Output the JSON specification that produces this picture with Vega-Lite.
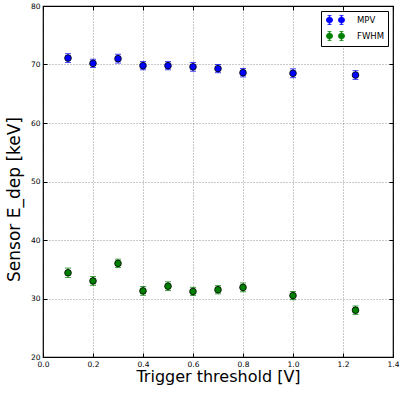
{
  "$schema": "https://vega.github.io/schema/vega-lite/v6.json",
  "width": 350,
  "height": 351,
  "autosize": {"type": "none"},
  "padding": {"left": 43, "top": 6, "right": 6, "bottom": 36},
  "background": "white",
  "config": {
    "font": "DejaVu Sans",
    "view": {"stroke": "black", "strokeWidth": 1.2},
    "axis": {"domain": false, "labelFont": "DejaVu Sans", "titleFont": "DejaVu Sans", "labelColor": "black", "titleColor": "black", "tickColor": "black", "titleFontWeight": "normal"},
    "legend": {"strokeColor": "black", "fillColor": "white", "padding": 3, "labelFontSize": 8.5, "labelColor": "black", "labelFont": "DejaVu Sans", "symbolOpacity": 1, "symbolStrokeColor": "black", "symbolStrokeWidth": 0.8, "rowPadding": 2, "labelOffset": 21, "symbolSize": 121, "offset": 5}
  },
  "data": {
    "values": [
      {"series": "MPV", "x": 0.1, "y": 71.1, "err": 0.75},
      {"series": "MPV", "x": 0.2, "y": 70.2, "err": 0.7},
      {"series": "MPV", "x": 0.3, "y": 71.0, "err": 0.75},
      {"series": "MPV", "x": 0.4, "y": 69.8, "err": 0.7},
      {"series": "MPV", "x": 0.5, "y": 69.8, "err": 0.7},
      {"series": "MPV", "x": 0.6, "y": 69.6, "err": 0.75},
      {"series": "MPV", "x": 0.7, "y": 69.3, "err": 0.7},
      {"series": "MPV", "x": 0.8, "y": 68.6, "err": 0.72},
      {"series": "MPV", "x": 1.0, "y": 68.5, "err": 0.75},
      {"series": "MPV", "x": 1.25, "y": 68.2, "err": 0.75},
      {"series": "FWHM", "x": 0.1, "y": 34.4, "err": 0.8},
      {"series": "FWHM", "x": 0.2, "y": 33.0, "err": 0.75},
      {"series": "FWHM", "x": 0.3, "y": 36.0, "err": 0.72},
      {"series": "FWHM", "x": 0.4, "y": 31.3, "err": 0.75},
      {"series": "FWHM", "x": 0.5, "y": 32.1, "err": 0.75},
      {"series": "FWHM", "x": 0.6, "y": 31.2, "err": 0.7},
      {"series": "FWHM", "x": 0.7, "y": 31.5, "err": 0.7},
      {"series": "FWHM", "x": 0.8, "y": 31.9, "err": 0.75},
      {"series": "FWHM", "x": 1.0, "y": 30.5, "err": 0.7},
      {"series": "FWHM", "x": 1.25, "y": 28.0, "err": 0.72}
    ]
  },
  "resolve": {"axis": {"x": "independent", "y": "independent"}},
  "layer": [
    {
      "mark": {"type": "errorbar", "ticks": {"size": 6}, "opacity": 0.75, "thickness": 1},
      "encoding": {
        "x": {"field": "x", "type": "quantitative", "scale": {"domain": [0, 1.4], "nice": false},
          "axis": {"orient": "top", "labels": false, "title": null, "grid": false, "values": [0,0.2,0.4,0.6,0.8,1.0,1.2,1.4], "tickSize": -4}},
        "y": {"field": "y", "type": "quantitative", "scale": {"domain": [20, 80], "nice": false, "zero": false},
          "axis": {"orient": "right", "labels": false, "title": null, "grid": false, "values": [20,30,40,50,60,70,80], "tickSize": -4}},
        "yError": {"field": "err"},
        "color": {"field": "series", "type": "nominal", "scale": {"domain": ["MPV", "FWHM"], "range": ["#0000ff", "#008000"]},
          "legend": {"title": null, "orient": "top-right", "strokeColor": "black", "fillColor": "white", "symbolOpacity": 1,
            "encode": {"legend": {"update": {"stroke": {"value": "black"}, "strokeWidth": {"value": 1}, "fill": {"value": "white"}}}},
            "symbolType": "M -0.09 -0.82 L -0.09 0.82 M -0.45 -0.82 L 0.27 -0.82 M -0.45 0.82 L 0.27 0.82 M 2.09 -0.82 L 2.09 0.82 M 1.73 -0.82 L 2.45 -0.82 M 1.73 0.82 L 2.45 0.82 M -0.64 0 A 0.55 0.55 0 1 0 0.46 0 A 0.55 0.55 0 1 0 -0.64 0 Z M 1.54 0 A 0.55 0.55 0 1 0 2.64 0 A 0.55 0.55 0 1 0 1.54 0 Z"}}
      }
    },
    {
      "mark": {"type": "point", "filled": true, "stroke": "black", "strokeWidth": 0.8, "size": 45, "opacity": 1},
      "encoding": {
        "x": {"field": "x", "type": "quantitative", "scale": {"domain": [0, 1.4], "nice": false},
          "axis": {"orient": "bottom", "title": "Trigger threshold [V]", "titleFontSize": 16, "labelFontSize": 7.5, "format": ".1f", "values": [0,0.2,0.4,0.6,0.8,1.0,1.2,1.4], "tickSize": -4, "labelPadding": 7, "titlePadding": 1, "grid": true, "gridColor": "black", "gridDash": [1, 2], "gridWidth": 0.7, "gridOpacity": 0.6, "labelFlush": false}},
        "y": {"field": "y", "type": "quantitative", "scale": {"domain": [20, 80], "nice": false, "zero": false},
          "axis": {"orient": "left", "title": "Sensor E_dep [keV]", "titleFontSize": 17, "titleY": 193, "labelFontSize": 7.5, "values": [20,30,40,50,60,70,80], "tickSize": -4, "labelPadding": 7, "titlePadding": 7, "grid": true, "gridColor": "black", "gridDash": [1, 2], "gridWidth": 0.7, "gridOpacity": 0.6, "labelFlush": false}},
        "color": {"field": "series", "type": "nominal", "scale": {"domain": ["MPV", "FWHM"], "range": ["#0000ff", "#008000"]},
          "legend": {"title": null, "orient": "top-right", "strokeColor": "black", "fillColor": "white", "symbolOpacity": 1,
            "encode": {"legend": {"update": {"stroke": {"value": "black"}, "strokeWidth": {"value": 1}, "fill": {"value": "white"}}}},
            "symbolType": "M -0.09 -0.82 L -0.09 0.82 M -0.45 -0.82 L 0.27 -0.82 M -0.45 0.82 L 0.27 0.82 M 2.09 -0.82 L 2.09 0.82 M 1.73 -0.82 L 2.45 -0.82 M 1.73 0.82 L 2.45 0.82 M -0.64 0 A 0.55 0.55 0 1 0 0.46 0 A 0.55 0.55 0 1 0 -0.64 0 Z M 1.54 0 A 0.55 0.55 0 1 0 2.64 0 A 0.55 0.55 0 1 0 1.54 0 Z"}}
      }
    }
  ]
}
